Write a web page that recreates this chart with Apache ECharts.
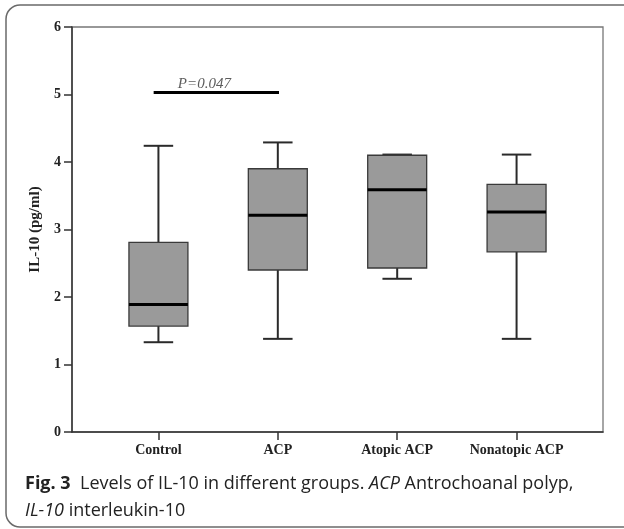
<!DOCTYPE html>
<html>
<head>
<meta charset="utf-8">
<script src="https://cdn.jsdelivr.net/npm/echarts@6/dist/echarts.min.js"></script>
<style>
  html, body { margin: 0; padding: 0; background: #fff; }
  #chart { width: 624px; height: 529px; }
</style>
</head>
<body>
<div id="chart"></div>
<script>
// groups on the x axis
const categories = ['Control', 'ACP', 'Atopic ACP', 'Nonatopic ACP']
// box statistics (pg/ml)
const whiskerLow = [1.33, 1.38, 2.27, 1.38]
const quartile1 = [1.57, 2.40, 2.43, 2.67]
const medians = [1.89, 3.21, 3.59, 3.26]
const quartile3 = [2.81, 3.90, 4.10, 3.67]
const whiskerHigh = [4.24, 4.29, 4.11, 4.11]
// y axis ticks
const yTicks = [0, 1, 2, 3, 4, 5, 6]
// significance bar between Control and ACP
const sigBar = [[-0.04, 5.03], [1.01, 5.03]]
const sigText = 'P=0.047'

const BOX_W = 0.494   // box width in category units
const serif = '"Liberation Serif", "Times New Roman", serif'

const boxData = categories.map((c, i) => [i, whiskerLow[i], quartile1[i], medians[i], quartile3[i], whiskerHigh[i]])

function renderBox(params, api) {
    const x = api.value(0)
    const lo = api.coord([x, api.value(1)])
    const q1 = api.coord([x, api.value(2)])
    const med = api.coord([x, api.value(3)])
    const q3 = api.coord([x, api.value(4)])
    const hi = api.coord([x, api.value(5)])
    const bw = api.size([BOX_W, 0])[0]
    const cx = lo[0]
    const whisk = { stroke: '#2a2a2a', lineWidth: 2 }
    return {
        type: 'group',
        children: [
            { type: 'line', shape: { x1: cx, y1: hi[1], x2: cx, y2: q3[1] }, style: whisk },
            { type: 'line', shape: { x1: cx, y1: q1[1], x2: cx, y2: lo[1] }, style: whisk },
            { type: 'line', shape: { x1: cx - bw / 4, y1: hi[1], x2: cx + bw / 4, y2: hi[1] }, style: whisk },
            { type: 'line', shape: { x1: cx - bw / 4, y1: lo[1], x2: cx + bw / 4, y2: lo[1] }, style: whisk },
            { type: 'rect', shape: { x: cx - bw / 2, y: q3[1], width: bw, height: q1[1] - q3[1] },
              style: { fill: '#9a9a9a', stroke: '#3a3a3a', lineWidth: 1.3 } },
            { type: 'line', shape: { x1: cx - bw / 2, y1: med[1], x2: cx + bw / 2, y2: med[1] },
              style: { stroke: '#000', lineWidth: 3 } }
        ]
    }
}

const chart = echarts.init(document.getElementById('chart'))
const capFont = '"Open Sans", sans-serif'
const capSize = 18
const option = {
    animation: false,
    backgroundColor: '#fff',
    title: {
        left: 20,
        top: 465,
        text: '{b|Fig. 3}{n|  Levels of IL-10 in different groups. }{i|ACP}{n| Antrochoanal polyp,}\n{i|IL-10}{n| interleukin-10}',
        textStyle: {
            fontFamily: capFont,
            fontSize: capSize,
            fontWeight: 'normal',
            color: '#222',
            lineHeight: 27,
            rich: {
                b: { fontFamily: capFont, fontSize: capSize, fontWeight: 'bold', color: '#222', lineHeight: 27 },
                n: { fontFamily: capFont, fontSize: capSize, color: '#222', lineHeight: 27 },
                i: { fontFamily: capFont, fontSize: capSize, fontStyle: 'italic', color: '#222', lineHeight: 27 }
            }
        }
    },
    graphic: [{
        type: 'rect',
        z: -1,
        shape: { x: 6, y: 5, width: 650, height: 522, r: [14, 0, 0, 14] },
        style: { fill: 'none', stroke: '#6a6a6a', lineWidth: 1.5 }
    }],
    grid: {
        left: 72, right: 21, top: 27, bottom: 97,
        show: true, borderColor: '#777', borderWidth: 1.3
    },
    xAxis: {
        type: 'value',
        min: -0.724,
        max: 3.724,
        splitLine: { show: false },
        axisLine: { onZero: false, lineStyle: { color: '#333', width: 1.5 } },
        axisTick: { customValues: [0, 1, 2, 3], length: 8, lineStyle: { color: '#333', width: 1.5 } },
        axisLabel: {
            customValues: [0, 1, 2, 3],
            formatter: v => categories[Math.round(v)],
            margin: 11,
            fontFamily: serif, fontWeight: 'bold', fontSize: 14, color: '#222'
        }
    },
    yAxis: {
        type: 'value',
        min: yTicks[0],
        max: yTicks[yTicks.length - 1],
        interval: 1,
        name: 'IL-10 (pg/ml)',
        nameLocation: 'middle',
        nameGap: 19,
        nameTextStyle: { fontFamily: serif, fontWeight: 'bold', fontSize: 15, color: '#222' },
        splitLine: { show: false },
        axisLine: { show: true, onZero: false, lineStyle: { color: '#333', width: 1.5 } },
        axisTick: { show: true, length: 8, lineStyle: { color: '#333', width: 1.5 } },
        axisLabel: { margin: 11, fontFamily: serif, fontWeight: 'bold', fontSize: 14, color: '#222' }
    },
    series: [
        {
            type: 'custom',
            renderItem: renderBox,
            encode: { x: 0, y: [1, 2, 3, 4, 5] },
            data: boxData
        },
        {
            type: 'line',
            data: sigBar,
            symbol: 'none',
            lineStyle: { color: '#000', width: 3 }
        },
        {
            type: 'scatter',
            data: [[(sigBar[0][0] + sigBar[1][0]) / 2 - 0.1, sigBar[0][1]]],
            symbolSize: 0,
            label: {
                show: true,
                position: 'top',
                distance: 1,
                formatter: sigText,
                fontFamily: serif, fontStyle: 'italic', fontSize: 15, color: '#333'
            }
        }
    ]
}
chart.setOption(option)
</script>
</body>
</html>
